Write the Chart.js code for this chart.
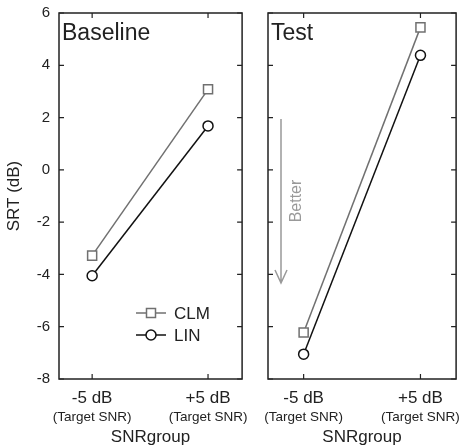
<!DOCTYPE html>
<html><head><meta charset="utf-8">
<script src="https://cdn.jsdelivr.net/npm/chart.js@4"></script>
<style>
body{margin:0;background:#fff;width:464px;height:448px;overflow:hidden;position:relative}
.panel{position:absolute;top:0;height:448px}
</style></head><body>
<div class="panel" style="left:0;width:250px"><canvas id="baseline"></canvas></div>
<div class="panel" style="left:250px;width:214px"><canvas id="test"></canvas></div>
<script>
var groups=['-5 dB','+5 dB'];
var groupNote='(Target SNR)';
var yTicks=[-8,-6,-4,-2,0,2,4,6];
var baselineCLM=[-3.28,3.08];
var baselineLIN=[-4.05,1.68];
var testCLM=[-6.22,5.45];
var testLIN=[-7.05,4.38];

var FONT='"Liberation Sans", Arial, sans-serif';
var CLM_COLOR='#707070';
var LIN_COLOR='#111';
var INK='#222';

function pts(arr){ return arr.map(function(v,i){ return {x:i+1,y:v}; }); }

function drawMarker(ctx,type,x,y,color){
  ctx.save();
  ctx.strokeStyle=color; ctx.fillStyle='#fff'; ctx.lineWidth=1.5;
  ctx.beginPath();
  if(type==='rect') ctx.rect(x-4.5,y-4.5,9,9);
  else ctx.arc(x,y,5,0,Math.PI*2);
  ctx.fill(); ctx.stroke();
  ctx.restore();
}

var panelExtras={
  id:'panelExtras',
  afterDraw:function(chart,args,opts){
    var ctx=chart.ctx, a=chart.chartArea, xs=chart.scales.x, ys=chart.scales.y;
    ctx.save();
    // box + inward ticks
    ctx.strokeStyle=INK; ctx.lineWidth=1.5;
    ctx.strokeRect(a.left,a.top,a.right-a.left,a.bottom-a.top);
    ctx.lineWidth=1.2;
    ctx.beginPath();
    yTicks.forEach(function(v){
      var y=ys.getPixelForValue(v);
      ctx.moveTo(a.left,y); ctx.lineTo(a.left+5,y);
      ctx.moveTo(a.right,y); ctx.lineTo(a.right-5,y);
    });
    groups.forEach(function(g,i){
      var x=xs.getPixelForValue(i+1);
      ctx.moveTo(x,a.top); ctx.lineTo(x,a.top+5);
      ctx.moveTo(x,a.bottom); ctx.lineTo(x,a.bottom-5);
    });
    ctx.stroke();

    // second line of tick labels
    ctx.fillStyle=INK; ctx.font='13.5px '+FONT;
    ctx.textAlign='center'; ctx.textBaseline='middle';
    groups.forEach(function(g,i){ ctx.fillText(groupNote,xs.getPixelForValue(i+1),417); });

    // panel title
    ctx.font='23px '+FONT; ctx.textAlign='left'; ctx.textBaseline='alphabetic';
    ctx.fillText(opts.title,a.left+3,40);

    if(opts.legend){
      var ds=chart.data.datasets;
      [313,335].forEach(function(y,i){
        var d=ds[i];
        ctx.strokeStyle=d.borderColor; ctx.lineWidth=1.5;
        ctx.beginPath(); ctx.moveTo(136,y); ctx.lineTo(166,y); ctx.stroke();
        drawMarker(ctx,d.pointStyle,151,y,d.borderColor);
        ctx.fillStyle=INK; ctx.font='17px '+FONT; ctx.textBaseline='middle'; ctx.textAlign='left';
        ctx.fillText(d.label,174,y+1);
      });
    }

    if(opts.arrow){
      var ax=a.left+13;
      ctx.strokeStyle='#999'; ctx.lineWidth=1.5;
      ctx.beginPath();
      ctx.moveTo(ax,119); ctx.lineTo(ax,283);
      ctx.moveTo(ax-6,270); ctx.lineTo(ax,283); ctx.lineTo(ax+6,270);
      ctx.stroke();
      ctx.translate(ax+16,201); ctx.rotate(-Math.PI/2);
      ctx.fillStyle='#999'; ctx.font='16px '+FONT; ctx.textAlign='center'; ctx.textBaseline='middle';
      ctx.fillText('Better',0,0);
    }
    ctx.restore();
  }
};

function makeChart(id,clm,lin,xmin,xmax,opts){
  var first=opts.first;
  return new Chart(document.getElementById(id),{
    type:'line',
    data:{datasets:[
      {label:'CLM',data:pts(clm),borderColor:CLM_COLOR,borderWidth:1.5,pointStyle:'rect',pointRadius:6.4,
       pointBackgroundColor:'#fff',pointBorderColor:CLM_COLOR,pointBorderWidth:1.5},
      {label:'LIN',data:pts(lin),borderColor:LIN_COLOR,borderWidth:1.5,pointStyle:'circle',pointRadius:5,
       pointBackgroundColor:'#fff',pointBorderColor:LIN_COLOR,pointBorderWidth:1.5}
    ]},
    options:{
      animation:false,responsive:true,maintainAspectRatio:false,devicePixelRatio:1,
      layout:{padding:{top:13,right:first?3:6,left:0,bottom:0}},
      plugins:{legend:{display:false},tooltip:{enabled:false},
        panelExtras:{title:opts.title,legend:opts.legend,arrow:opts.arrow}},
      scales:{
        x:{type:'linear',min:xmin,max:xmax,
          afterBuildTicks:function(s){ s.ticks=groups.map(function(g,i){ return {value:i+1}; }); },
          afterFit:function(s){ s.height=69; s.paddingLeft=0; s.paddingRight=0; },
          grid:{display:false,drawTicks:false},border:{display:false},
          ticks:{padding:9,color:INK,font:{family:FONT,size:17},maxRotation:0,autoSkip:false,
            callback:function(v){ return groups[Math.round(v)-1]; }},
          title:{display:true,text:'SNRgroup',color:INK,font:{family:FONT,size:17},padding:{top:0,bottom:0}}
        },
        y:{min:-8,max:6,
          afterBuildTicks:function(s){ s.ticks=yTicks.map(function(v){ return {value:v}; }); },
          afterFit:function(s){ s.width=first?59:18; s.paddingTop=0; s.paddingBottom=0; },
          grid:{display:false,drawTicks:false},border:{display:false},
          ticks:{display:first,padding:9,color:INK,font:{family:FONT,size:15}},
          title:{display:first,text:'SRT (dB)',color:INK,font:{family:FONT,size:17},padding:{top:4,bottom:0}}
        }
      }
    },
    plugins:[panelExtras]
  });
}

makeChart('baseline',baselineCLM,baselineLIN,0.714,2.294,{first:true,title:'Baseline',legend:true,arrow:false});
makeChart('test',testCLM,testLIN,0.695,2.305,{first:false,title:'Test',legend:false,arrow:true});
</script>
</body></html>
